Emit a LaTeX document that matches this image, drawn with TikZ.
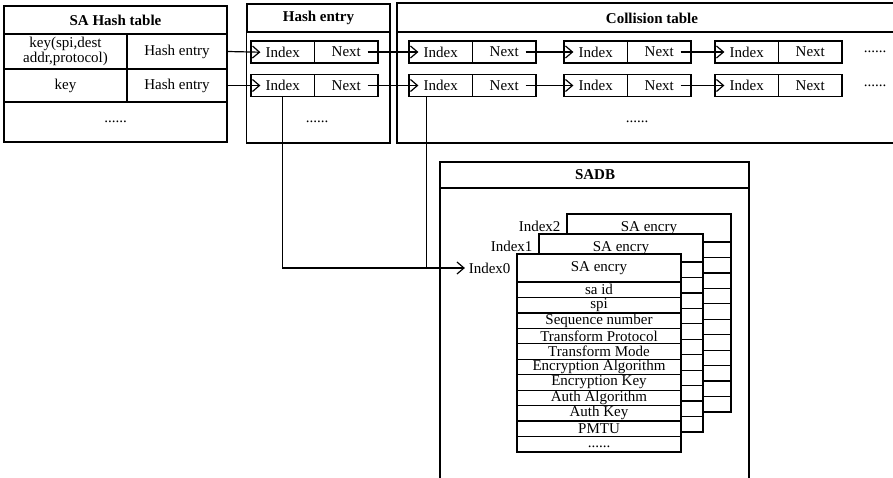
\documentclass[tikz,border=0pt]{standalone}
\usepackage{fontspec}
\setmainfont{Liberation Serif}
\usetikzlibrary{arrows.meta, calc, positioning}

\begin{document}
\begin{tikzpicture}[x=1pt, y=-1pt, line width=1.2pt,
      font=\fontsize{15}{15}\selectfont,
      cell/.style={draw, rectangle, inner sep=0pt, align=center},
      ttl/.style={font=\fontsize{15}{15}\selectfont\bfseries},
      ent/.style={cell, minimum width=63.5pt, minimum height=22pt},
      row/.style={cell, fill=white, minimum width=164pt, minimum height=15.45pt},
      fld/.style={font=\fontsize{15}{15}\selectfont, inner sep=0pt},
      arr/.style={-{Straight Barb[length=7pt, width=12pt]}},
      into/.style={arr, shorten >=-10pt}]
   \useasboundingbox (0,0) rectangle (893,478);
   % SA Hash table
   \node[cell, ttl, minimum width=223pt, minimum height=28pt] (sht) at (115.5,20) {SA Hash table};
   \node[cell, minimum width=123pt, minimum height=35pt] (k1) at (65.5,51.5) {key(spi,dest\\addr,protocol)};
   \node[cell, minimum width=100pt, minimum height=35pt] (h1) at (177,51.5) {Hash entry};
   \node[cell, minimum width=123pt, minimum height=33pt] (k2) at (65.5,85.5) {key};
   \node[cell, minimum width=100pt, minimum height=33pt] (h2) at (177,85.5) {Hash entry};
   \node[cell, minimum width=223pt, minimum height=40pt] (shd) at (115.5,122) {......};
   % Hash entry
   \node[cell, ttl, minimum width=143pt, minimum height=28pt] (het) at (318.5,18) {Hash entry};
   \draw (het.south west) rectangle (390,143);
   \foreach \j/\y in {1/52, 2/85.5} {
      \node[ent] (hei\j) at (282.75,\y) {Index};
      \node[ent] (hen\j) at (346.25,\y) {Next};
   }
   \node (hed) at (317,122) {......};
   % Collision table (open on the right)
   \draw (893,3) -- (397,3) -- (397,143) -- (893,143);
   \draw (397,32) -- (893,32);
   \node[ttl] (ctt) at (652,18) {Collision table};
   \foreach \c/\x in {1/409, 2/564, 3/715} {
      \foreach \j/\y in {1/52, 2/85.5} {
         \node[ent] (ci\c\j) at ({\x+31.75},\y) {Index};
         \node[ent] (cn\c\j) at ({\x+95.25},\y) {Next};
      }
   }
   \node (cd1) at (875,52) {......};
   \node (cd2) at (875,85.5) {......};
   \node (ctd) at (637,122) {......};
   % Links between entries
   \draw[into] (h1.east) -- (hei1.west);
   \draw[into] (h2.east) -- (hei2.west);
   \foreach \j in {1,2} {
      \draw[into, shorten <=-11pt] (hen\j.east) -- (ci1\j.west);
      \draw[into, shorten <=-11pt] (cn1\j.east) -- (ci2\j.west);
      \draw[into, shorten <=-11pt] (cn2\j.east) -- (ci3\j.west);
   }
   % SADB
   \draw (440,478) -- (440,162) -- (749,162) -- (749,478);
   \draw (440,188) -- (749,188);
   \node[ttl] (sadb) at (595,175) {SADB};
   \foreach \k/\cx/\cy in {2/567/214, 1/539/234, 0/517/254} {
      \node[cell, fill=white, minimum width=164pt, minimum height=28pt] (sa\k) at ({\cx+82},{\cy+14}) {SA encry};
      \foreach \j in {1,...,11}
         \node[row] (f\k-\j) at ({\cx+82},{\cy+28+(\j-0.5)*15.45}) {};
   }
   % Fields of the front entry
   \foreach \j/\t in {1/sa id, 2/spi, 3/Sequence number, 4/Transform Protocol,
         5/Transform Mode, 6/Encryption Algorithm, 7/Encryption Key,
         8/Auth Algorithm, 9/Auth Key, 10/PMTU}
      \node[fld] at (f0-\j) {\t};
   \node[fld] at ([yshift=-3pt]f0-11.center) {......};
   \node[anchor=east] (idx2) at ([xshift=-2pt, yshift=2pt]sa2.west) {Index2};
   \node[anchor=east] (idx1) at ([xshift=-2pt, yshift=2pt]sa1.west) {Index1};
   \node[anchor=east] (idx0) at ([xshift=-2pt]sa0.west) {Index0};
   % Pointers into SADB
   \draw[arr] (hei2.south) |- (idx0.west);
   \coordinate (drop) at ([xshift=18pt]ci12.south west);
   \draw (drop) -- (drop |- idx0.west);
\end{tikzpicture}
\end{document}
